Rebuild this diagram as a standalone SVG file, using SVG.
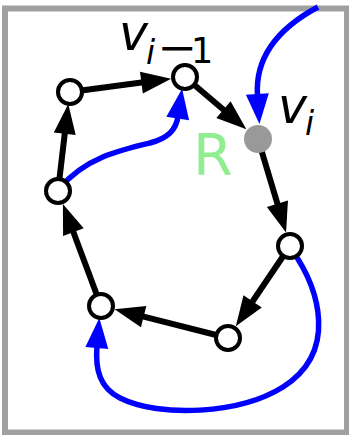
<svg xmlns="http://www.w3.org/2000/svg" width="349" height="435" viewBox="0 0 349 435">
<style>
.edge{fill:none;stroke:#000;stroke-width:6}
.blue{fill:none;stroke:#0000ff;stroke-width:5.5}
.node{fill:#fff;stroke:#000;stroke-width:4}
.lbl{font-family:"DejaVu Sans",sans-serif;fill:#000}
</style>
<defs>
<marker id="ak" markerUnits="userSpaceOnUse" orient="auto" overflow="visible" markerWidth="1" markerHeight="1" refX="0" refY="0"><path d="M-2,-11 L28,0 L-2,11 z" fill="#000"/></marker>
<marker id="ab" markerUnits="userSpaceOnUse" orient="auto" overflow="visible" markerWidth="1" markerHeight="1" refX="0" refY="0"><path d="M-2,-11.5 L28,0 L-2,11.5 z" fill="#0000ff"/></marker>
</defs>
<rect x="5" y="8.5" width="342" height="424" fill="#fff" stroke="#a0a0a0" stroke-width="6"/>
<g id="connectors">
<path class="edge" d="M70,92 L143.4,82.3" marker-end="url(#ak)"/>
<path class="edge" d="M185,77 L225,111" marker-end="url(#ak)"/>
<path class="edge" d="M258,139 L278,205.7" marker-end="url(#ak)"/>
<path class="edge" d="M290,246 L251.5,303" marker-end="url(#ak)"/>
<path class="edge" d="M228,338 L141.7,316.2" marker-end="url(#ak)"/>
<path class="edge" d="M101,306 L72.7,230.3" marker-end="url(#ak)"/>
<path class="edge" d="M58,191 L65,131.7" marker-end="url(#ak)"/>
<path class="blue" d="M318,7 C275,30 255,60 257.5,96" marker-end="url(#ab)"/>
<path class="blue" d="M60,188 C85,158 120,150 150,143 C168,138 176,130 178,116.5" marker-end="url(#ab)"/>
<path class="blue" d="M292,250 C320,290 338,352 283,387 C240,414 160,418 120,398 C100,388 95,370 97,346" marker-end="url(#ab)"/>
</g>
<g id="A"><circle class="node" cx="70" cy="92" r="12"/></g>
<g id="B"><circle class="node" cx="185" cy="77" r="12"/></g>
<g id="C"><circle cx="258" cy="139" r="14" fill="#999999"/></g>
<g id="D"><circle class="node" cx="58" cy="191" r="12"/></g>
<g id="E"><circle class="node" cx="290" cy="246" r="12"/></g>
<g id="F"><circle class="node" cx="228" cy="338" r="12"/></g>
<g id="G"><circle class="node" cx="101" cy="306" r="12"/></g>
<g id="labels">
<text class="lbl" font-size="49"><tspan x="119" y="50" font-style="italic">v</tspan><tspan x="146" y="64" font-size="33" font-style="italic">i</tspan><tspan x="157" y="62" font-size="43" textLength="40" lengthAdjust="spacingAndGlyphs">−</tspan><tspan x="191" y="63" font-size="35">1</tspan></text>
<text class="lbl" font-size="49"><tspan x="278" y="123" font-style="italic">v</tspan><tspan x="305" y="135" font-size="33" font-style="italic">i</tspan></text>
<text x="193" y="175" font-family="DejaVu Sans,sans-serif" font-size="57" fill="#90ee90">R</text>
</g>
</svg>
